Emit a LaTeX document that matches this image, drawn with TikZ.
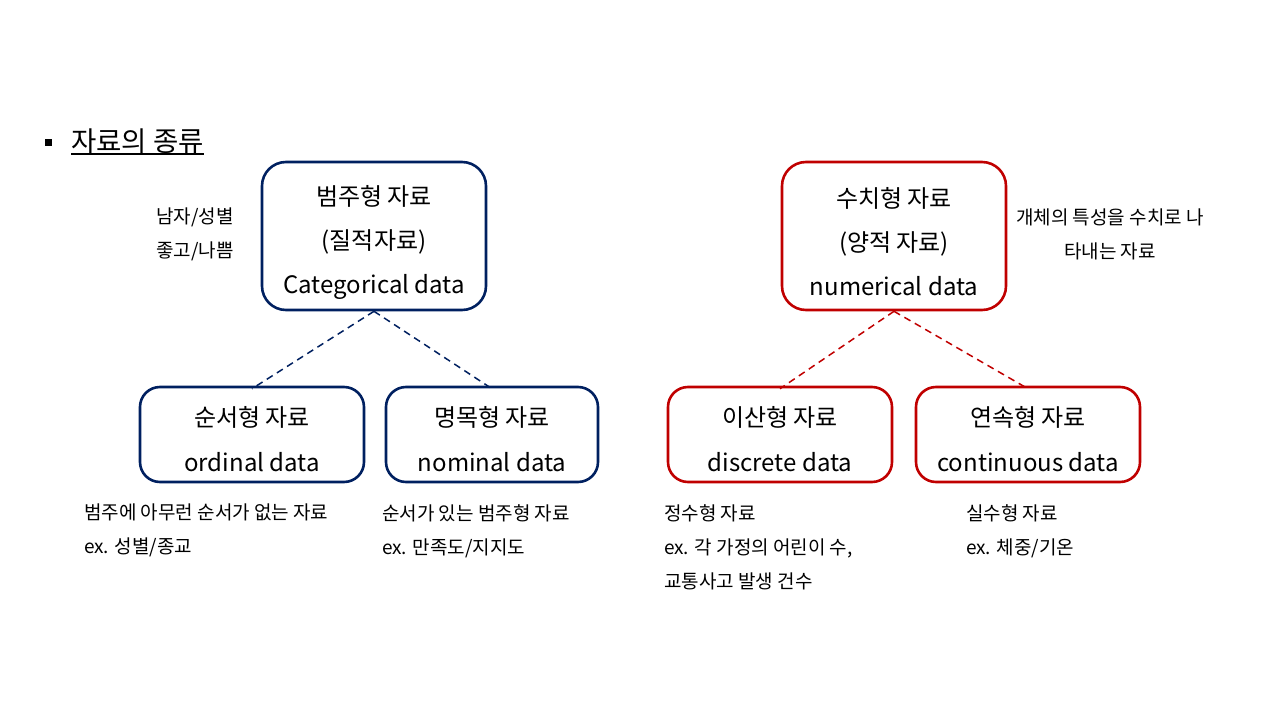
\documentclass[tikz,border=0pt]{standalone}
\usepackage{fontspec}
\setmainfont{Noto Sans CJK KR}
\definecolor{navy}{HTML}{002060}
\definecolor{dred}{HTML}{C00000}
\tikzset{
  bigbox/.style={draw, line width=2.6pt, rounded corners=24pt, minimum width=224pt, minimum height=148pt, inner sep=0pt},
  smallbox/.style={draw, line width=2.6pt, rounded corners=20pt, minimum height=95pt, inner sep=0pt},
  boxtext/.style={align=center, inner sep=0pt, font=\fontsize{24}{44}\selectfont},
  note/.style={font=\fontsize{19}{34}\selectfont, inner sep=0pt},
  link/.style={line width=1.5pt, dash pattern=on 7pt off 5pt}
}
\begin{document}
\begin{tikzpicture}[x=1pt,y=-1pt]
\useasboundingbox (0,0) rectangle (1280,720);
% title
\fill (44.5,138.5) rectangle (51.5,145.5);
\node[anchor=west, inner sep=0pt, font=\fontsize{27.5}{30}\selectfont] (title) at (71,141) {자료의 종류};
\draw[line width=1.5pt] (title.south west |- 0,154) coordinate (ul1) -- (title.south east |- 0,154) coordinate (ul2);
% top boxes
\node[bigbox, draw=navy] (cat) at (374,236) {};
\node[bigbox, draw=dred] (num) at (894,236) {};
\node[boxtext] (catt) at ([yshift=-6pt]cat.center) {범주형 자료\\(질적자료)\\Categorical data};
\node[boxtext] (numt) at ([yshift=-6pt]num.center) {수치형 자료\\(양적 자료)\\numerical data};
% child boxes
\node[smallbox, draw=navy, minimum width=224pt] (ord) at (252,434.5) {};
\node[smallbox, draw=navy, minimum width=212pt] (nom) at (492,434.5) {};
\node[smallbox, draw=dred, minimum width=224pt] (dis) at (780,434.5) {};
\node[smallbox, draw=dred, minimum width=224pt] (con) at (1028,434.5) {};
\node[boxtext, font=\fontsize{24}{45}\selectfont] (ordt) at ([yshift=-5pt]ord.center) {순서형 자료\\ordinal data};
\node[boxtext, font=\fontsize{24}{45}\selectfont] (nomt) at ([yshift=-5pt]nom.center) {명목형 자료\\nominal data};
\node[boxtext, font=\fontsize{24}{45}\selectfont] (dist) at ([yshift=-5pt]dis.center) {이산형 자료\\discrete data};
\node[boxtext, font=\fontsize{24}{45}\selectfont] (cont) at ([yshift=-5pt]con.center) {연속형 자료\\continuous data};
% links
\draw[link, draw=navy] (cat.south) -- ([yshift=-3pt]ord.north);
\draw[link, draw=navy] (cat.south) -- ([yshift=-3pt]nom.north);
\draw[link, draw=dred] (num.south) -- ([yshift=-3pt]dis.north);
\draw[link, draw=dred] (num.south) -- ([yshift=-3pt]con.north);
% side notes
\node[note, align=center] (n1) at (195,234) {남자/성별\\좋고/나쁨};
\node[note, align=center] (n2) at (1110,234) {개체의 특성을 수치로 나\\타내는 자료};
\node[note, align=left, anchor=north west] (n3) at (84,504) {범주에 아무런 순서가 없는 자료\\ex. 성별/종교};
\node[note, align=left, anchor=north west] (n4) at (382,504) {순서가 있는 범주형 자료\\ex. 만족도/지지도};
\node[note, align=left, anchor=north west] (n5) at (664,504) {정수형 자료\\ex. 각 가정의 어린이 수,\\교통사고 발생 건수};
\node[note, align=left, anchor=north west] (n6) at (966,504) {실수형 자료\\ex. 체중/기온};
\end{tikzpicture}
\end{document}
